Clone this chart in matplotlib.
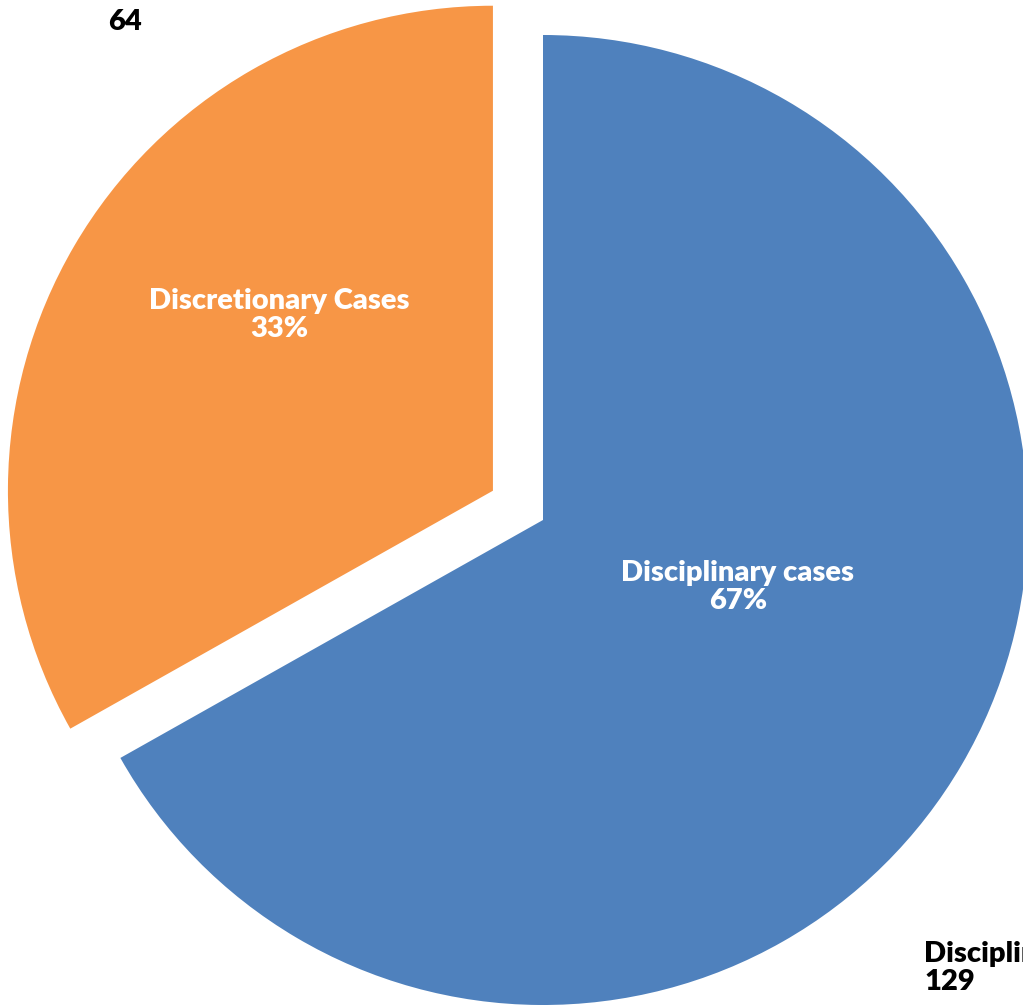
import numpy as np
import matplotlib

matplotlib.use("Agg")

import matplotlib.pyplot as plt

# data
categories = ["Disciplinary cases", "Discretionary Cases"]
counts = [129, 64]
colors = ["#4F81BD", "#F79646"]

W, H = 1023, 1006
fig = plt.figure(figsize=(W / 100, H / 100), dpi=100)
ax = fig.add_axes([0, 0, 1, 1])

radius = 485
center = (543, H - 520)
# explode is in data units (pixels here)
wedges, _ = ax.pie(
    counts,
    colors=colors,
    startangle=90,
    counterclock=False,
    radius=radius,
    center=center,
    explode=[0, 58],
    frame=True,
)
ax.set_xlim(0, W)
ax.set_ylim(0, H)
ax.set_aspect("equal")
ax.axis("off")

total = sum(counts)
pct = [round(100 * c / total) for c in counts]

# inside labels (angle in degrees, distance as fraction of radius)
inside_pos = [(-19.0, 0.425), (140.5, 0.57)]
font = ["Lato", "DejaVu Sans"]
for w, name, p, (ang, dist) in zip(wedges, categories, pct, inside_pos):
    cx, cy = w.center
    x = cx + dist * radius * np.cos(np.radians(ang))
    y = cy + dist * radius * np.sin(np.radians(ang))
    ax.text(x, y, f"{name}\n{p}%", ha="center", va="center", color="white",
            fontsize=21, fontweight="heavy", family=font, linespacing=1.12)

# outside labels
ax.text(108, H - 22, f"{counts[1]}", ha="left", va="center", color="black",
        fontsize=21, fontweight="heavy", family=font)
ax.text(924, H - 968, f"{categories[0]}\n{counts[0]}", ha="left", va="center",
        color="black", fontsize=21, fontweight="heavy", family=font,
        linespacing=1.12, multialignment="left")

fig.savefig("out.png", dpi=100)
